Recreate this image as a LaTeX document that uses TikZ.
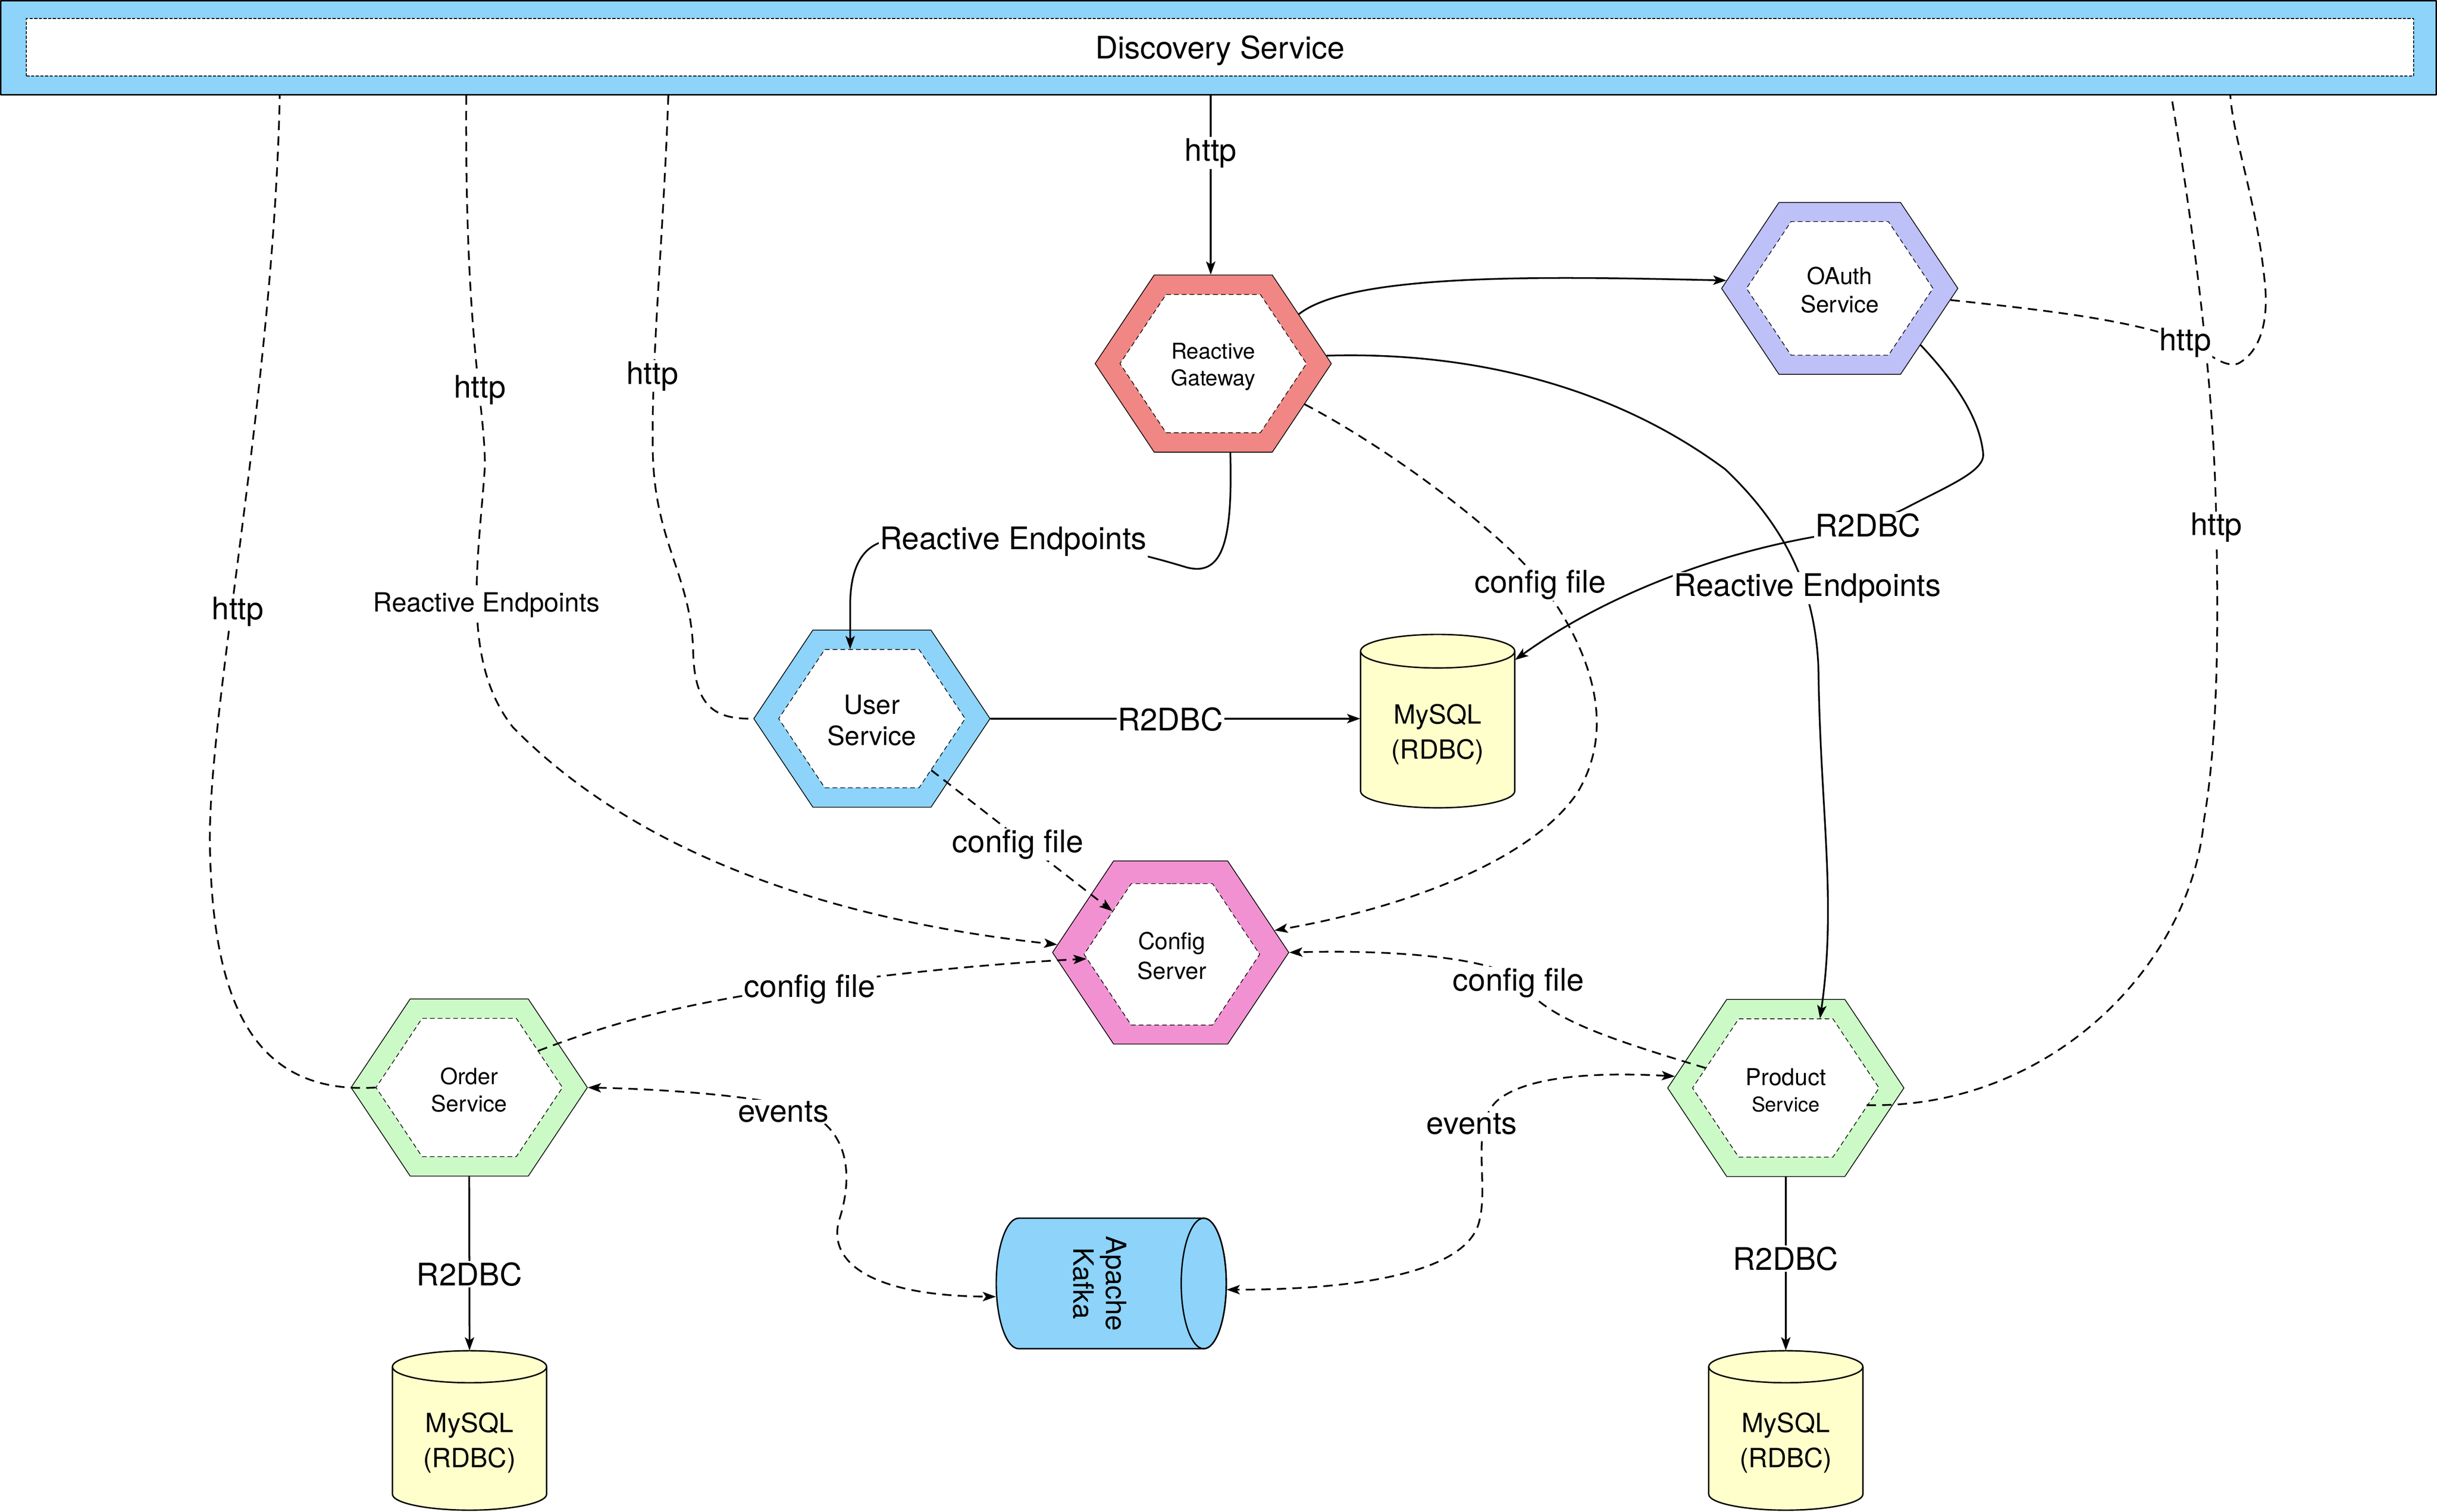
\documentclass[tikz,border=0pt]{standalone}
\usepackage{fontspec}
\setmainfont{TeX Gyre Heros}
\usetikzlibrary{arrows.meta,calc,shapes.symbols}
\definecolor{dsblue}{RGB}{141,211,250}
\definecolor{gwred}{RGB}{240,135,132}
\definecolor{oapurple}{RGB}{190,192,248}
\definecolor{cspink}{RGB}{242,145,210}
\definecolor{svgreen}{RGB}{204,250,198}
\definecolor{dbyellow}{RGB}{255,255,204}
\tikzset{
 hexo/.style={shape=signal, signal to=east and west, signal pointer angle=112.6, draw=black, line width=0.5pt, inner sep=0pt, minimum width=152pt, minimum height=114pt},
 hexi/.style={shape=signal, signal to=east and west, signal pointer angle=112.6, draw=black, line width=0.45pt, dash pattern=on 3pt off 2pt, fill=white, inner sep=0pt, minimum width=120pt, minimum height=89pt},
 hextext/.style={align=center, inner sep=0pt},
 conn/.style={line width=1.1pt},
 dsh/.style={conn, dash pattern=on 6pt off 4pt},
 arr/.style={-{Stealth[length=8.5pt,width=6pt,inset=2pt]}},
 darr/.style={{Stealth[length=8.5pt,width=6pt,inset=2pt]}-{Stealth[length=8.5pt,width=6pt,inset=2pt]}},
 lbl/.style={fill=white, inner sep=0.8pt, yshift=-1.5pt, font=\fontsize{20}{24}\selectfont},
 cyl/.style={draw=black, line width=0.9pt, fill=dbyellow},
 dbtext/.style={align=center, font=\fontsize{17}{22.5}\selectfont},
 box/.style={inner sep=0pt, draw=none},
}
\newcommand\vcyl[6][]{%
  \pgfmathsetmacro\cylCx{(#2+#4)/2}%
  \pgfmathsetmacro\cylRx{(#4-#2)/2}%
  \pgfmathsetmacro\cylYt{#3+#6}%
  \pgfmathsetmacro\cylYb{#5-#6}%
  \pgfmathsetmacro\cylKx{0.5523*\cylRx}%
  \pgfmathsetmacro\cylKy{0.5523*#6}%
  \filldraw[#1] (#2,\cylYt) -- (#2,\cylYb) .. controls (#2,{\cylYb+\cylKy}) and ({\cylCx-\cylKx},#5) .. (\cylCx,#5) .. controls ({\cylCx+\cylKx},#5) and (#4,{\cylYb+\cylKy}) .. (#4,\cylYb) -- (#4,\cylYt) .. controls (#4,{\cylYt-\cylKy}) and ({\cylCx+\cylKx},#3) .. (\cylCx,#3) .. controls ({\cylCx-\cylKx},#3) and (#2,{\cylYt-\cylKy}) .. cycle;
  \draw[#1,fill=none] (#2,\cylYt) .. controls (#2,{\cylYt+\cylKy}) and ({\cylCx-\cylKx},{\cylYt+#6}) .. (\cylCx,{\cylYt+#6}) .. controls ({\cylCx+\cylKx},{\cylYt+#6}) and (#4,{\cylYt+\cylKy}) .. (#4,\cylYt);
}
\begin{document}
\begin{tikzpicture}[x=1pt,y=-1pt,line join=round]
\useasboundingbox (0,0) rectangle (1568,972.9);

% Discovery Service bar
\node[draw=black, fill=dsblue, line width=0.7pt, minimum width=1567pt, minimum height=60.5pt, inner sep=0pt] (ds) at (784,30.75) {};
\node[draw=black, fill=white, line width=0.5pt, dash pattern=on 2pt off 1pt, minimum width=1536pt, minimum height=37pt, inner sep=0pt] (dsi) at (785,30.5) {};
\node[font=\fontsize{20}{24}\selectfont, inner sep=0pt] (dst) at ([yshift=-2pt]dsi.center) {Discovery Service};

% Hexagons
\node[hexo, fill=gwred] (gw) at (780.6,234) {};
\node[hexi] (gwi) at (gw.center) {};
\node[hextext, font=\fontsize{14}{17}\selectfont] (gwt) at ([yshift=-2pt]gw.center) {Reactive\\Gateway};

\node[hexo, fill=oapurple, minimum height=110.6pt] (oa) at (1183.7,185.6) {};
\node[hexi, minimum height=86pt] (oai) at (oa.center) {};
\node[hextext, font=\fontsize{15}{18}\selectfont] (oat) at ([yshift=-1pt]oa.center) {OAuth\\Service};

\node[hexo, fill=dsblue] (us) at (561,462.5) {};
\node[hexi] (usi) at (us.center) {};
\node[hextext, font=\fontsize{17}{20}\selectfont] (ust) at ([yshift=-1pt]us.center) {User\\Service};

\node[hexo, fill=cspink, minimum height=117.8pt] (cs) at (753.2,613) {};
\node[hexi, minimum width=113pt, minimum height=91pt] (csi) at (754,614.2) {};
\node[hextext, font=\fontsize{15}{19}\selectfont] (cst) at ([yshift=-1pt]csi.center) {Config\\Server};

\node[hexo, fill=svgreen] (os) at (301.9,699.9) {};
\node[hexi] (osi) at (os.center) {};
\node[hextext, font=\fontsize{14.5}{17.6}\selectfont] (ost) at ([yshift=-1.5pt]os.center) {Order\\Service};

\node[hexo, fill=svgreen] (ps) at (1149,700.2) {};
\node[hexi] (psi) at (ps.center) {};
\node[hextext, font=\fontsize{15}{17}\selectfont] (pst) at ([yshift=-1.5pt]ps.center) {Product\\{\fontsize{13}{15}\selectfont Service}};

% Databases
\vcyl[cyl]{875.4}{408.3}{974.6}{519.9}{10.8}
\node[box, minimum width=99.2pt, minimum height=111.6pt] (db1) at (925,464.1) {};
\node[dbtext] (db1t) at (925,472.5) {MySQL\\(RDBC)};

\vcyl[cyl]{252.5}{869.3}{351.7}{971.9}{10.3}
\node[box, minimum width=99.2pt, minimum height=102.6pt] (db2) at (302.1,920.6) {};
\node[dbtext] (db2t) at (302.1,928.5) {MySQL\\(RDBC)};

\vcyl[cyl]{1099.4}{869.3}{1198.6}{971.9}{10.3}
\node[box, minimum width=99.2pt, minimum height=102.6pt] (db3) at (1149,920.6) {};
\node[dbtext] (db3t) at (1149,928.5) {MySQL\\(RDBC)};

% Kafka
\filldraw[draw=black, line width=0.9pt, fill=dsblue] (655.5,784) -- (774.5,784) .. controls (782.5,784) and (789,802.8) .. (789,826) .. controls (789,849.2) and (782.5,868) .. (774.5,868) -- (655.5,868) .. controls (647.5,868) and (641,849.2) .. (641,826) .. controls (641,802.8) and (647.5,784) .. cycle;
\draw[line width=0.9pt] (774.5,826) ellipse [x radius=14.5, y radius=42];
\node[box, minimum width=148pt, minimum height=84pt] (kf) at (715,826) {};
\node[rotate=-90, align=center, font=\fontsize{18}{21}\selectfont] (kft) at (707.5,826) {Apache\\Kafka};

% Connectors
\draw[conn,arr] (ds.south -| 779,0) -- (gw.north -| 779,0);
\draw[conn,arr] (gw.30) .. controls (870,175) and (1000,178) .. (oa.176);
\draw[dsh] (oa.-6) .. controls (1320,200) and (1370,206) .. (1406,219) .. controls (1420,226) and (1430,237) .. (1440,234) .. controls (1455,226) and (1460,205) .. (1457,180) .. controls (1452,130) and (1437,90) .. (ds.south -| 1435,0);
\draw[dsh] ($(ps.center)+(52,11)$) .. controls (1320,714) and (1410,620) .. (1418,528) .. controls (1428,470) and (1427,390) .. (1426,338) .. controls (1425,280) and (1420,200) .. (ds.south -| 1397,0);
\draw[dsh] (osi.west) .. controls (160,705) and (136,640) .. (135,540) .. controls (135,450) and (176,250) .. (ds.south -| 180,0);
\draw[dsh,arr] (ds.south -| 300,0) .. controls (299,220) and (312,260) .. (312,300) .. controls (308,360) and (296,425) .. (330,468) .. controls (420,560) and (560,595) .. (cs.176);
\draw[dsh] (ds.south -| 430,0) .. controls (427,150) and (419,230) .. (420,290) .. controls (421,350) and (445,370) .. (446,420) .. controls (447,455) and (460,463) .. (us.west);
\draw[conn,arr] ($(gw.south)+(11,0)$) .. controls (793,345) and (788,372) .. (763,365) .. controls (740,358) and (700,347) .. (652,347) -- (570,348) .. controls (553,352) and (547,368) .. (547,390) -- ($(usi.north)+(-14,0)$);
\draw[conn,arr] (us.east) -- (us.east -| db1.west);
\draw[conn,arr] (oa.-35) .. controls (1262,250) and (1274,272) .. (1276,292) .. controls (1277,303) and (1255,312) .. (1228,326) .. controls (1215,333) and (1190,342) .. (1170,345) .. controls (1100,357) and (1030,385) .. ($(db1.north east)+(0,16.6)$);
\draw[conn,arr] (gw.4) .. controls (950,226) and (1040,250) .. (1110,302) .. controls (1150,340) and (1168,380) .. (1170,430) .. controls (1171,520) and (1182,580) .. ($(psi.north)+(22,0)$);
\draw[dsh,arr] (gw.-24) .. controls (900,292) and (975,350) .. (995,380) .. controls (1020,415) and (1042,465) .. (1015,510) .. controls (985,555) and (900,585) .. (cs.12);
\draw[dsh,arr] (usi.-41) -- (csi.144);
\draw[dsh,arr] (osi.28) .. controls (400,656) and (440,646) .. (521,634) .. controls (580,626) and (640,620) .. (csi.183);
\draw[dsh,arr] (psi.166) .. controls (1030,667) and (995,655) .. (978,632) .. controls (965,617) and (900,611) .. (cs.east);
\draw[dsh,darr] (os.east) .. controls (430,701) and (500,706) .. (520,716) .. controls (548,730) and (548,760) .. (540,785) .. controls (532,812) and (560,834) .. ($(kf.west)+(0,8.5)$);
\draw[dsh,darr] (ps.174) .. controls (1030,690) and (985,692) .. (965,707) .. controls (945,722) and (958,760) .. (952,785) .. controls (945,820) and (870,830) .. ($(kf.east)+(0,4)$);
\draw[conn,arr] (os.south) -- (db2.north);
\draw[conn,arr] (ps.south) -- (db3.north);

% Labels
\node[lbl] (l1) at (779,97) {http};
\node[lbl] (l2) at (308.7,249.5) {http};
\node[lbl] (l3) at (419.8,240.5) {http};
\node[lbl] (l4) at (153,392) {http};
\node[lbl] (l5) at (1406,219) {http};
\node[lbl] (l6) at (1426,338) {http};
\node[lbl] (l7) at (652,347) {Reactive Endpoints};
\node[lbl] (l8) at (1163,377) {Reactive Endpoints};
\node[lbl, font=\fontsize{17}{20}\selectfont] (l9) at (313,388) {Reactive Endpoints};
\node[lbl] (l10) at (991,375) {config file};
\node[lbl] (l11) at (655,542) {config file};
\node[lbl] (l12) at (521,635) {config file};
\node[lbl] (l13) at (977,631) {config file};
\node[lbl, yshift=1.5pt] (l14) at (753,463) {R2DBC};
\node[lbl, yshift=1.5pt] (l15) at (1202,338) {R2DBC};
\node[lbl, yshift=1.5pt] (l16) at (302,820) {R2DBC};
\node[lbl, yshift=1.5pt] (l17) at (1149,810) {R2DBC};
\node[lbl] (l18) at (504,714) {events};
\node[lbl] (l19) at (947,722) {events};
\end{tikzpicture}
\end{document}
